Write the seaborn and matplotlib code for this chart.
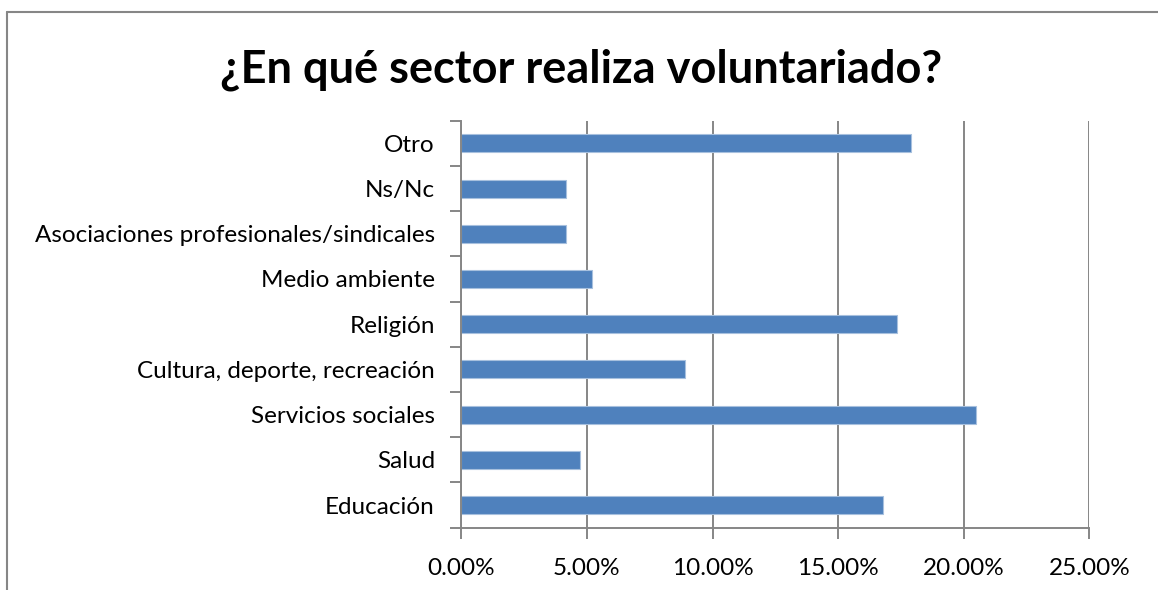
import matplotlib
matplotlib.use('Agg')
import matplotlib.pyplot as plt
from matplotlib.ticker import FuncFormatter
from matplotlib.lines import Line2D
import seaborn as sns
import pandas as pd

# Survey data (share of volunteers per sector)
sectors = ['Otro', 'Ns/Nc', 'Asociaciones profesionales/sindicales', 'Medio ambiente',
           'Religión', 'Cultura, deporte, recreación', 'Servicios sociales', 'Salud', 'Educación']
shares = [17.90, 4.17, 4.17, 5.19, 17.33, 8.92, 20.50, 4.71, 16.78]
xticks = [0, 5, 10, 15, 20, 25]

df = pd.DataFrame({'Sector': sectors, 'Share': shares})

sns.set_theme(style='white')
plt.rcParams['font.family'] = ['Lato', 'DejaVu Sans']
plt.rcParams['text.color'] = 'black'

fig = plt.figure(figsize=(11.58, 5.9), dpi=100)
ax = fig.add_axes([0.3984, 0.1056, 0.9407 - 0.3984, 0.7954 - 0.1056])

sns.barplot(data=df, x='Share', y='Sector', orient='h', order=sectors, ax=ax,
            color='#4F81BD', saturation=1, width=0.4, edgecolor='#A7C0DE', linewidth=0.8)

ax.set_xlim(0, 25)
ax.set_ylim(len(sectors) - 0.5, -0.5)
ax.set_xticks(xticks)
ax.xaxis.set_major_formatter(FuncFormatter(lambda v, p: f'{v:.2f}%'))
ax.set_xlabel('')
ax.set_ylabel('')

grey = '#868686'
ax.grid(axis='x', color=grey, linewidth=1.4)
ax.set_axisbelow(True)
for s in ['top', 'right']:
    ax.spines[s].set_visible(False)
for s in ['left', 'bottom']:
    ax.spines[s].set_color(grey)
    ax.spines[s].set_linewidth(1.4)

# category boundary ticks on y axis
ax.set_yticks([i - 0.5 for i in range(len(sectors) + 1)], minor=True)
ax.tick_params(axis='y', which='major', length=0, pad=19, labelsize=17.5, labelcolor='black')
ax.tick_params(axis='y', which='minor', length=8, width=1.4, color=grey, left=True)
ax.tick_params(axis='x', which='major', length=8, width=1.4, color=grey, bottom=True,
               pad=14, labelsize=17.5, labelcolor='black')

fig.suptitle('¿En qué sector realiza voluntariado?', x=0.502, y=0.882, va='center',
             fontsize=32.5, fontweight='bold', color='black')

# chart frame (top and left edges visible)
fig.add_artist(Line2D([7.5 / 1158, 1], [1 - 11.7 / 590, 1 - 11.7 / 590],
                      transform=fig.transFigure, color=grey, linewidth=1.5))
fig.add_artist(Line2D([7.5 / 1158, 7.5 / 1158], [0, 1 - 11.7 / 590],
                      transform=fig.transFigure, color=grey, linewidth=1.5))

fig.savefig('out.png', dpi=100)
